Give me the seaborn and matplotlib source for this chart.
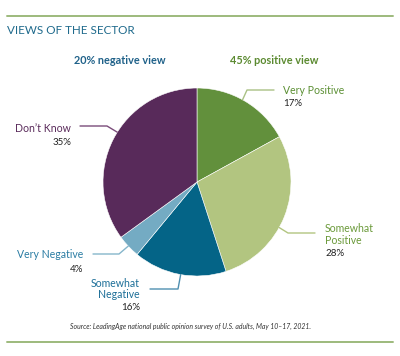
import numpy as np
import matplotlib
matplotlib.use("Agg")
import matplotlib.pyplot as plt
import seaborn as sns

categories = ["Very Positive", "Somewhat Positive", "Somewhat Negative", "Very Negative", "Don't Know"]
values = [17, 28, 16, 4, 35]
label_texts = ["Very Positive", "Somewhat\nPositive", "Somewhat\nNegative", "Very Negative", "Don\u2019t Know"]
pct_labels = ["17%", "28%", "16%", "4%", "35%"]
header_neg = "20% negative view"
header_pos = "45% positive view"
title = "VIEWS OF THE SECTOR"
source = "Source: LeadingAge national public opinion survey of U.S. adults, May 10\u201317, 2021."

sns.set_theme(style="white")
plt.rcParams['font.family'] = ['Lato', 'DejaVu Sans']

slice_colors = ["#62903c", "#b2c580", "#046487", "#74abc3", "#582a5a"]
text_colors = ["#5b8f33", "#6b9a3a", "#1d6f98", "#2a7ca3", "#5a2b5b"]
line_colors = ["#a9c184", "#b2c580", "#4f8fb0", "#86b6cb", "#7a4c7a"]

W, H = 400, 356
fig = plt.figure(figsize=(W / 100, H / 100), dpi=100)
fig.patch.set_facecolor("white")

cx, cy, R = 197, 182, 94
ax = fig.add_axes([(cx - R) / W, (H - cy - R) / H, 2 * R / W, 2 * R / H])
ax.pie(values, colors=slice_colors, startangle=90, counterclock=False,
       radius=1, wedgeprops=dict(edgecolor="white", linewidth=0.4))
ax.set_xlim(-1, 1)
ax.set_ylim(-1, 1)
ax.set_aspect("equal")
ax.axis("off")

def fx(px):
    return px / W

def fy(py):
    return 1 - py / H

# leader line layout: edge angle (deg), elbow px, end px
edge_angles = [61, -29, -100, -137, 148]
elbows = [(247, 90), (288, 233), (178, 289), (119, 254), (107, 126)]
ends = [(274, 90), (315, 233), (150, 289), (93, 254), (80, 126)]
label_pos = [(283, 90, "left"), (325, 234.5, "left"), (140, 289, "right"), (83, 254, "right"), (71, 128, "right")]
pct_pos = [(283, 103.5), (325, 254), (140, 307), (83, 269), (71, 142.5)]

for i in range(len(values)):
    a = np.deg2rad(edge_angles[i])
    ex, ey = cx + R * np.cos(a), cy - R * np.sin(a)
    xs = [ex, elbows[i][0], ends[i][0]]
    ys = [ey, elbows[i][1], ends[i][1]]
    fig.add_artist(plt.Line2D([fx(x) for x in xs], [fy(y) for y in ys],
                              color=line_colors[i], lw=1.0, transform=fig.transFigure))
    lx, ly, ha = label_pos[i]
    fig.text(fx(lx), fy(ly), label_texts[i], ha=ha, va="center", fontsize=7.6,
             color=text_colors[i], linespacing=1.1)
    px, py = pct_pos[i]
    fig.text(fx(px), fy(py), pct_labels[i], ha=ha, va="center", fontsize=7,
             color="#222222")

# rules
fig.add_artist(plt.Line2D([fx(7), fx(393)], [fy(16), fy(16)], color="#9dba7c", lw=1.4,
                          transform=fig.transFigure))
fig.add_artist(plt.Line2D([fx(7), fx(393)], [fy(342), fy(342)], color="#9dba7c", lw=1.4,
                          transform=fig.transFigure))

fig.text(fx(7), fy(31), title, ha="left", va="center", fontsize=8.4, color="#1f6a8c")
fig.text(fx(120), fy(61), header_neg, ha="center", va="center", fontsize=7.8,
         fontweight="bold", color="#1f6189")
fig.text(fx(274), fy(61), header_pos, ha="center", va="center", fontsize=7.8,
         fontweight="bold", color="#5b8a30")
fig.text(fx(191), fy(326), source, ha="center", va="center", fontsize=4.95,
         style="italic", color="#333333")

fig.savefig("out.png", dpi=100, facecolor="white")
